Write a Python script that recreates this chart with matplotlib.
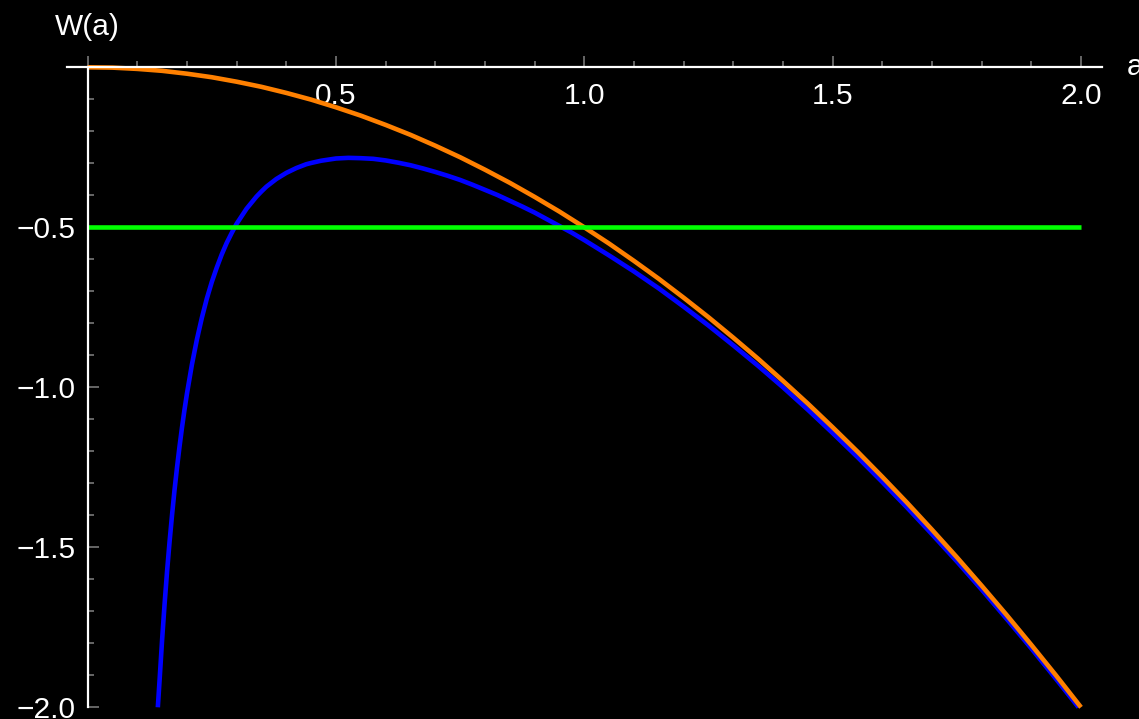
import matplotlib
matplotlib.use("Agg")
import matplotlib.pyplot as plt
from matplotlib.ticker import FixedLocator

# ---- data ----
a_orange = [0.0, 0.05, 0.1, 0.15, 0.2, 0.25, 0.3, 0.35, 0.4, 0.45, 0.5, 0.55, 0.6, 0.65,
            0.7, 0.75, 0.8, 0.85, 0.9, 0.95, 1.0, 1.05, 1.1, 1.15, 1.2, 1.25, 1.3, 1.35,
            1.4, 1.45, 1.5, 1.55, 1.6, 1.65, 1.7, 1.75, 1.8, 1.85, 1.9, 1.95, 2.0]
w_orange = [0.0, -0.001, -0.005, -0.011, -0.02, -0.031, -0.045, -0.061, -0.08, -0.101,
            -0.125, -0.151, -0.18, -0.211, -0.245, -0.281, -0.32, -0.361, -0.405, -0.451,
            -0.5, -0.551, -0.605, -0.661, -0.72, -0.781, -0.845, -0.911, -0.98, -1.051,
            -1.125, -1.201, -1.28, -1.361, -1.445, -1.531, -1.62, -1.711, -1.805, -1.901, -2.0]

a_blue = [0.1414, 0.145, 0.15, 0.155, 0.16, 0.165, 0.17, 0.175, 0.18, 0.185, 0.19, 0.195,
          0.2, 0.21, 0.22, 0.23, 0.24, 0.25, 0.26, 0.27, 0.28, 0.29, 0.3, 0.32, 0.34, 0.35,
          0.36, 0.38, 0.4, 0.42, 0.44, 0.45, 0.47, 0.5, 0.525, 0.55, 0.575, 0.6, 0.625,
          0.65, 0.675, 0.7, 0.725, 0.75, 0.775, 0.8, 0.825, 0.85, 0.875, 0.9, 0.925, 0.95,
          0.975, 1.0, 1.05, 1.1, 1.15, 1.2, 1.25, 1.3, 1.35, 1.4, 1.45, 1.5, 1.55, 1.6,
          1.65, 1.7, 1.75, 1.8, 1.85, 1.9, 1.95, 1.995]
w_blue = [-2.0, -1.913, -1.789, -1.677, -1.575, -1.483, -1.399, -1.321, -1.251, -1.186,
          -1.126, -1.071, -1.02, -0.929, -0.851, -0.783, -0.723, -0.671, -0.626, -0.585,
          -0.549, -0.518, -0.489, -0.442, -0.404, -0.388, -0.373, -0.349, -0.33, -0.315,
          -0.303, -0.299, -0.292, -0.285, -0.283, -0.284, -0.286, -0.291, -0.298, -0.306,
          -0.316, -0.327, -0.339, -0.352, -0.367, -0.383, -0.399, -0.417, -0.435, -0.454,
          -0.475, -0.496, -0.517, -0.54, -0.588, -0.638, -0.691, -0.748, -0.807, -0.869,
          -0.933, -1.0, -1.07, -1.143, -1.218, -1.296, -1.376, -1.459, -1.544, -1.632,
          -1.723, -1.816, -1.912, -2.0]

a_green = [0.0, 2.0]
w_green = [-0.5, -0.5]

x_major = [0.0, 0.5, 1.0, 1.5, 2.0]
x_major_labels = ["", "0.5", "1.0", "1.5", "2.0"]
x_minor = [0.1, 0.2, 0.3, 0.4, 0.6, 0.7, 0.8, 0.9, 1.1, 1.2, 1.3, 1.4, 1.6, 1.7, 1.8, 1.9]
y_major = [0.0, -0.5, -1.0, -1.5, -2.0]
y_major_labels = ["", "\u22120.5", "\u22121.0", "\u22121.5", "\u22122.0"]
y_minor = [-0.1, -0.2, -0.3, -0.4, -0.6, -0.7, -0.8, -0.9, -1.1, -1.2, -1.3, -1.4,
           -1.6, -1.7, -1.8, -1.9]

plt.rcParams['font.family'] = ['Liberation Sans', 'DejaVu Sans']

W, H = 1139, 719
fig = plt.figure(figsize=(W / 100, H / 100), dpi=100, facecolor='black')
ax = fig.add_axes([0, 0, 1, 1], facecolor='black')

x0px, xscale = 87.6, 496.7
y0px, yscale = 67.3, 320.0
ax.set_xlim(-x0px / xscale, (W - x0px) / xscale)
ax.set_ylim(-(H - y0px) / yscale, y0px / yscale)

lw = 3.3
ax.plot(a_blue, w_blue, color='#0000ff', lw=lw, solid_capstyle='butt',
        solid_joinstyle='round', zorder=2)
ax.plot(a_orange, w_orange, color='#ff8000', lw=lw, solid_capstyle='butt',
        solid_joinstyle='round', zorder=2.1)
ax.plot(a_green, w_green, color='#00ff00', lw=lw, solid_capstyle='butt', zorder=2.2)

for s in ['top', 'right']:
    ax.spines[s].set_visible(False)
ax.spines['left'].set_position(('data', 0))
ax.spines['bottom'].set_position(('data', 0))
ax.spines['bottom'].set_bounds(-0.042, 2.042)
ax.spines['left'].set_bounds(-2.0, 0.0)
for s in ['left', 'bottom']:
    ax.spines[s].set_color('white')
    ax.spines[s].set_linewidth(1.6)
    ax.spines[s].set_zorder(3)

ax.xaxis.set_major_locator(FixedLocator(x_major))
ax.xaxis.set_minor_locator(FixedLocator(x_minor))
ax.set_xticklabels(x_major_labels)
ax.yaxis.set_major_locator(FixedLocator(y_major))
ax.yaxis.set_minor_locator(FixedLocator(y_minor))
ax.set_yticklabels(y_major_labels)

tick_col = '#666666'
ax.tick_params(axis='x', which='major', direction='in', length=8, width=1.4,
               color=tick_col, labelcolor='white', labelsize=21.5, pad=10.5)
ax.tick_params(axis='x', which='minor', direction='in', length=4.3, width=1.4,
               color=tick_col)
ax.tick_params(axis='y', which='major', direction='in', length=8, width=1.4,
               color=tick_col, labelcolor='white', labelsize=21.5, pad=8.4)
ax.tick_params(axis='y', which='minor', direction='in', length=4.3, width=1.4,
               color=tick_col)

fig.text(87.6 / W, 1 - 35 / H, "W(a)", color='white', fontsize=21.5,
         ha='center', va='baseline')
fig.text(1127 / W, 1 - 75 / H, "a", color='white', fontsize=21.5,
         ha='left', va='baseline')

fig.savefig("out.png", dpi=100, facecolor='black')
